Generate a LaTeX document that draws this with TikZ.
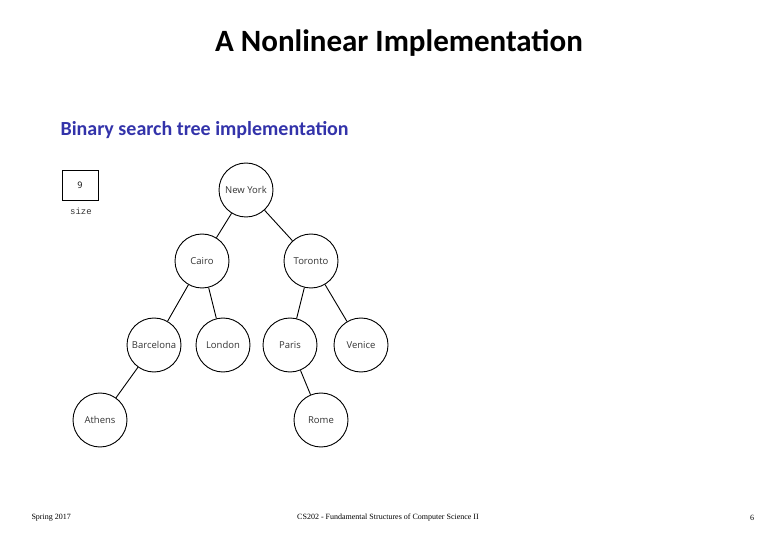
\documentclass[tikz,border=0pt]{standalone}
\usepackage{fontspec}
\setmainfont{Carlito}
\newfontfamily\nodefont{Open Sans}
\newfontfamily\footfont{Liberation Serif}
\setmonofont{Liberation Mono}
\definecolor{subblue}{RGB}{51,51,170}
\begin{document}
\begin{tikzpicture}[x=1pt,y=-1pt,
  city/.style={circle,draw,line width=0.9pt,minimum size=54pt,inner sep=0pt,text=black!80,font=\nodefont\fontsize{9.5}{10}\selectfont},
  edge/.style={line width=0.9pt}]
\useasboundingbox (0,0) rectangle (780,540);
\node (title) at (399,43) {\fontsize{31}{34}\selectfont\bfseries A Nonlinear Implementation};
\node[anchor=west,text=subblue] (sub) at (57,130) {\fontsize{20}{23}\selectfont\bfseries Binary search tree implementation};
\node[draw,line width=0.8pt,minimum width=36pt,minimum height=30pt,inner sep=0pt,font=\nodefont\fontsize{9}{10}\selectfont] (size) at (80,185) {9};
\node[font=\ttfamily\fontsize{9}{10}\selectfont,text=black!80] (sizel) at (81,211) {size};
\node[city] (ny) at (246,190) {New York};
\node[city] (cai) at (202,261) {Cairo};
\node[city] (tor) at (311,261) {Toronto};
\node[city] (bar) at (154,345) {Barcelona};
\node[city] (lon) at (223,345) {London};
\node[city] (par) at (290,345) {Paris};
\node[city] (ven) at (361,345) {Venice};
\node[city] (ath) at (100,420) {Athens};
\node[city] (rom) at (321,420) {Rome};
\draw[edge] (ny)--(cai); \draw[edge] (ny)--(tor);
\draw[edge] (cai)--(bar); \draw[edge] (cai)--(lon);
\draw[edge] (tor)--(par); \draw[edge] (tor)--(ven);
\draw[edge] (bar)--(ath); \draw[edge] (par)--(rom);
\node[anchor=west,font=\footfont\fontsize{8}{9}\selectfont] (f1) at (28,518) {Spring 2017};
\node[font=\footfont\fontsize{8}{9}\selectfont] (f2) at (388,518) {CS202 - Fundamental Structures of Computer Science II};
\node[font=\footfont\fontsize{8}{9}\selectfont] (f3) at (752,518) {6};
\end{tikzpicture}
\end{document}
